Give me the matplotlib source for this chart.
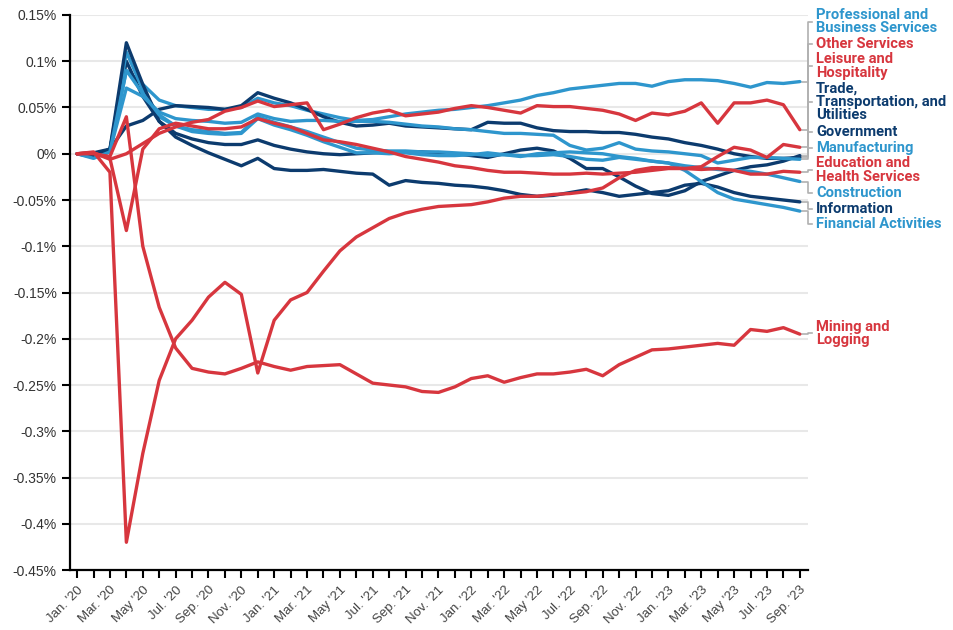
import matplotlib
matplotlib.use('Agg')
import matplotlib.pyplot as plt

# months Jan 2020 - Sep 2023
month_names = ['Jan.', 'Feb.', 'Mar.', 'Apr.', 'May', 'Jun.', 'Jul.', 'Aug.', 'Sep.', 'Oct.', 'Nov.', 'Dec.']
months = [f"{month_names[i % 12]} '{20 + i // 12}" for i in range(45)]

# values in percent
professional = [0, -0.003, 0.005, 0.090, 0.075, 0.058, 0.052, 0.050, 0.048, 0.048, 0.050, 0.060,
                0.055, 0.052, 0.047, 0.043, 0.039, 0.036, 0.037, 0.040, 0.043, 0.045, 0.047, 0.048,
                0.050, 0.052, 0.055, 0.058, 0.063, 0.066, 0.070, 0.072, 0.074, 0.076, 0.076, 0.073,
                0.078, 0.080, 0.080, 0.079, 0.076, 0.072, 0.077, 0.076, 0.078]
other_services = [0, 0.001, -0.006, 0.0, 0.011, 0.022, 0.029, 0.034, 0.037, 0.046, 0.050, 0.057,
                  0.051, 0.053, 0.055, 0.026, 0.032, 0.039, 0.044, 0.047, 0.041, 0.043, 0.045, 0.049,
                  0.052, 0.050, 0.047, 0.044, 0.052, 0.051, 0.051, 0.049, 0.047, 0.043, 0.036, 0.044,
                  0.042, 0.046, 0.055, 0.033, 0.055, 0.055, 0.058, 0.053, 0.026]
leisure = [0, 0.002, -0.020, -0.420, -0.324, -0.245, -0.200, -0.180, -0.155, -0.139, -0.152, -0.237,
           -0.180, -0.158, -0.150, -0.127, -0.105, -0.090, -0.080, -0.070, -0.064, -0.060, -0.057, -0.056,
           -0.055, -0.052, -0.048, -0.046, -0.046, -0.044, -0.043, -0.041, -0.037, -0.026, -0.018, -0.015,
           -0.015, -0.016, -0.014, -0.003, 0.007, 0.004, -0.004, 0.010, 0.007]
trade = [0, 0.001, 0.005, 0.030, 0.036, 0.048, 0.052, 0.051, 0.050, 0.048, 0.052, 0.066,
         0.060, 0.055, 0.048, 0.040, 0.034, 0.030, 0.031, 0.033, 0.030, 0.029, 0.028, 0.027,
         0.026, 0.034, 0.033, 0.033, 0.028, 0.025, 0.024, 0.024, 0.023, 0.023, 0.021, 0.018,
         0.016, 0.012, 0.009, 0.005, 0.000, -0.003, -0.005, -0.005, -0.004]
government = [0, 0.0, 0.004, 0.100, 0.062, 0.035, 0.022, 0.016, 0.012, 0.010, 0.010, 0.015,
              0.009, 0.005, 0.002, 0.000, -0.001, 0.000, 0.001, 0.002, 0.002, 0.002, 0.001, 0.000,
              -0.002, -0.004, 0.000, 0.004, 0.006, 0.003, -0.005, -0.016, -0.016, -0.025, -0.035, -0.043,
              -0.045, -0.040, -0.030, -0.024, -0.018, -0.014, -0.012, -0.008, -0.002]
manufacturing = [0, -0.004, 0.003, 0.071, 0.062, 0.045, 0.038, 0.036, 0.035, 0.033, 0.034, 0.043,
                 0.038, 0.035, 0.036, 0.036, 0.035, 0.035, 0.035, 0.034, 0.032, 0.030, 0.029, 0.027,
                 0.026, 0.024, 0.022, 0.022, 0.021, 0.020, 0.009, 0.004, 0.006, 0.012, 0.005, 0.003,
                 0.002, 0.000, -0.002, -0.010, -0.007, -0.004, -0.004, -0.005, -0.006]
education = [0, 0.001, -0.005, -0.083, 0.005, 0.027, 0.033, 0.030, 0.027, 0.027, 0.029, 0.038,
             0.033, 0.029, 0.022, 0.015, 0.013, 0.010, 0.006, 0.002, -0.003, -0.006, -0.009, -0.013,
             -0.015, -0.018, -0.020, -0.020, -0.021, -0.022, -0.022, -0.021, -0.022, -0.021, -0.020, -0.018,
             -0.016, -0.016, -0.017, -0.016, -0.018, -0.022, -0.022, -0.019, -0.020]
construction = [0, -0.003, 0.004, 0.110, 0.070, 0.040, 0.030, 0.026, 0.024, 0.022, 0.023, 0.040,
                0.034, 0.029, 0.024, 0.018, 0.012, 0.006, 0.004, 0.003, 0.003, 0.002, 0.002, 0.001,
                0.000, -0.002, -0.001, -0.003, 0.000, 0.001, 0.002, 0.001, 0.000, -0.003, -0.005, -0.008,
                -0.010, -0.013, -0.015, -0.017, -0.018, -0.019, -0.022, -0.026, -0.030]
information = [0, -0.002, 0.005, 0.120, 0.075, 0.035, 0.018, 0.009, 0.001, -0.006, -0.013, -0.005,
               -0.016, -0.018, -0.018, -0.017, -0.019, -0.021, -0.022, -0.034, -0.029, -0.031, -0.032, -0.034,
               -0.035, -0.037, -0.040, -0.044, -0.046, -0.045, -0.042, -0.039, -0.042, -0.046, -0.044, -0.042,
               -0.040, -0.034, -0.032, -0.036, -0.042, -0.046, -0.048, -0.050, -0.052]
financial = [0, -0.005, 0.002, 0.090, 0.065, 0.042, 0.030, 0.024, 0.022, 0.021, 0.022, 0.038,
             0.031, 0.026, 0.020, 0.013, 0.007, 0.001, 0.001, 0.000, 0.001, -0.001, -0.002, -0.002,
             -0.001, 0.001, -0.001, -0.002, -0.002, -0.001, -0.003, -0.006, -0.007, -0.004, -0.006, -0.008,
             -0.010, -0.018, -0.030, -0.042, -0.049, -0.052, -0.055, -0.058, -0.062]
mining = [0, 0.0, -0.003, 0.040, -0.100, -0.166, -0.210, -0.232, -0.236, -0.238, -0.232, -0.225,
          -0.230, -0.234, -0.230, -0.229, -0.228, -0.238, -0.248, -0.250, -0.252, -0.257, -0.258, -0.252,
          -0.243, -0.240, -0.247, -0.242, -0.238, -0.238, -0.236, -0.233, -0.240, -0.228, -0.220, -0.212,
          -0.211, -0.209, -0.207, -0.205, -0.207, -0.190, -0.192, -0.188, -0.195]

RED = '#d7363e'
LIGHT = '#2e96cd'
NAVY = '#0c3b6e'

# name, data, colour, label y position (data units)
series = [
    ('Professional and\nBusiness Services', professional, LIGHT, 0.1425),
    ('Other Services', other_services, RED, 0.1186),
    ('Leisure and\nHospitality', leisure, RED, 0.0949),
    ('Trade,\nTransportation, and\nUtilities', trade, NAVY, 0.0559),
    ('Government', government, NAVY, 0.0235),
    ('Manufacturing', manufacturing, LIGHT, 0.0062),
    ('Education and\nHealth Services', education, RED, -0.0176),
    ('Construction', construction, LIGHT, -0.0424),
    ('Information', information, NAVY, -0.0597),
    ('Financial Activities', financial, LIGHT, -0.0759),
    ('Mining and\nLogging', mining, RED, -0.1943),
]

fig = plt.figure(figsize=(9.54, 6.3), dpi=100)
ax = fig.add_axes([0.0734, 0.0952, 0.7736, 0.881])

x = list(range(len(months)))
# blues first, reds on top
for name, vals, col, ly in sorted(series, key=lambda s: s[2] == RED):
    ax.plot(x, vals, color=col, lw=2.4, solid_joinstyle='round', solid_capstyle='round', zorder=3)

# labels and leader lines on the right
for name, vals, col, ly in series:
    ax.plot([44.15, 44.5, 44.5, 44.74], [vals[-1], vals[-1], ly, ly],
            color='#b0b0b0', lw=1.2, clip_on=False, zorder=2)
    ax.text(44.98, ly, name, color=col, fontsize=10.6, fontweight='bold', family='Roboto',
            va='center', ha='left', linespacing=0.92, clip_on=False)

ax.set_xlim(-0.43, 44.5)
ax.set_ylim(-0.45, 0.15)

yticks = [0.15, 0.1, 0.05, 0, -0.05, -0.1, -0.15, -0.2, -0.25, -0.3, -0.35, -0.4, -0.45]
ax.set_yticks(yticks)
ax.set_yticklabels([f"{t:g}%" for t in yticks], fontsize=10, color='#333333', family='Liberation Sans')
ax.set_xticks(x)
ax.set_xticklabels([m if i % 2 == 0 else '' for i, m in enumerate(months)], rotation=45,
                   ha='right', rotation_mode='anchor', fontsize=9.5, color='#444444',
                   family='Liberation Sans')
ax.tick_params(axis='both', length=6, width=1.5, color='black', direction='out')
ax.tick_params(axis='x', pad=4)

ax.grid(axis='y', color='#e8e8e8', lw=1.5)
ax.set_axisbelow(True)
for s in ['top', 'right']:
    ax.spines[s].set_visible(False)
for s in ['left', 'bottom']:
    ax.spines[s].set_linewidth(1.6)
    ax.spines[s].set_color('black')

fig.savefig('out.png', dpi=100)
